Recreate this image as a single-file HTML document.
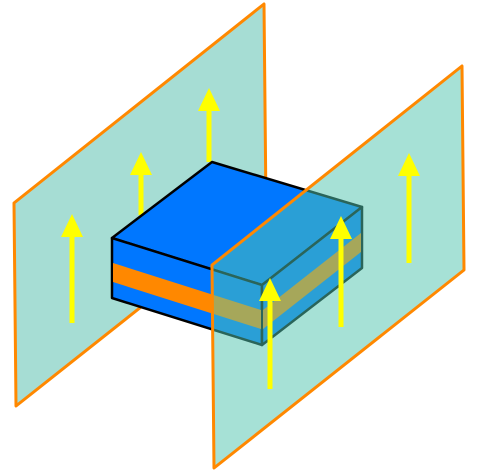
<!DOCTYPE html>
<html><head><meta charset="utf-8"><style>html,body{margin:0;padding:0;background:#fff}svg{display:block}</style></head>
<body>
<svg width="480" height="471" viewBox="0 0 480 471">
  <defs>
    <marker id="ah" markerWidth="4" markerHeight="4" refX="0" refY="2" orient="auto" markerUnits="strokeWidth">
      <path d="M0,0 L4,2 L0,4 z" fill="#ffff00"/>
    </marker>
  </defs>
  <g>
    <polygon points="14,203 264,4 266,208 16,406" fill="#a6ddd4" stroke="#ff8800" stroke-width="3" stroke-linejoin="round"/>
  </g>
  <g>
    <line x1="72" y1="323" x2="72" y2="236" stroke="#ffff00" stroke-width="5"/>
    <polygon points="61,237 83,237 72,214" fill="#ffff00"/>
    <line x1="141" y1="215" x2="141" y2="174" stroke="#ffff00" stroke-width="5"/>
    <polygon points="130,175 152,175 141,152" fill="#ffff00"/>
    <line x1="209" y1="162" x2="209" y2="110" stroke="#ffff00" stroke-width="5"/>
    <polygon points="198,111 220,111 209,88" fill="#ffff00"/>
  </g>
  <g stroke="#000" stroke-width="2.5" stroke-linejoin="round">
    <polygon points="112,238 212,162 362,207 262,285" fill="#0077ff"/>
    <polygon points="112,238 262,285 262,345 112,298" fill="#0077ff"/>
    <polygon points="262,285 362,207 362,268 262,345" fill="#0077ff"/>
    <polygon points="113,263 261,310 261,329 113,282" fill="#ff8800" stroke="none"/>
    <polygon points="263,310 361,233 361,252 263,329" fill="#ff8800" stroke="none"/>
  </g>
  <g>
    <polygon points="212,265 462,66 464,270 214,468" fill="rgb(82,196,175)" fill-opacity="0.514" stroke="#ff8800" stroke-width="3" stroke-linejoin="round"/>
  </g>
  <g>
    <line x1="270" y1="389" x2="270" y2="300" stroke="#ffff00" stroke-width="5"/>
    <polygon points="259,301 281,301 270,278" fill="#ffff00"/>
    <line x1="341" y1="327" x2="341" y2="238" stroke="#ffff00" stroke-width="5"/>
    <polygon points="330,239 352,239 341,216" fill="#ffff00"/>
    <line x1="409" y1="263" x2="409" y2="175" stroke="#ffff00" stroke-width="5"/>
    <polygon points="398,176 420,176 409,153" fill="#ffff00"/>
  </g>
</svg>
</body></html>
